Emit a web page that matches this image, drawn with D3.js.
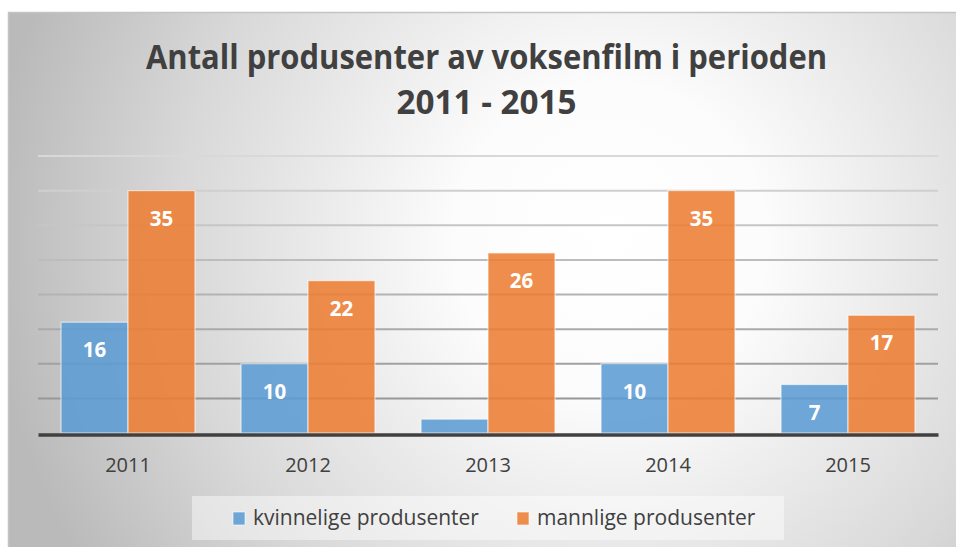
<!DOCTYPE html>
<html>
<head>
<meta charset="utf-8">
<script src="https://cdn.jsdelivr.net/npm/d3@7"></script>
<style>
  html, body { margin: 0; padding: 0; background: #fff; }
  svg { display: block; font-family: "Open Sans", sans-serif; }
</style>
</head>
<body>
<script>
// data
var years = ["2011", "2012", "2013", "2014", "2015"];
var series = ["kvinnelige produsenter", "mannlige produsenter"];
var kvinner = [16, 10, 2, 10, 7];
var menn = [35, 22, 26, 35, 17];
var yTicks = [0, 5, 10, 15, 20, 25, 30, 35, 40];
var titleLines = ["Antall produsenter av voksenfilm i perioden", "2011 - 2015"];

var colors = ["#5b9bd5", "#ed7d31"];

var W = 956, H = 547;
var svg = d3.select("body").append("svg")
  .attr("width", W)
  .attr("height", H);

var defs = svg.append("defs");

// radial background like the excel chart area
var bg = defs.append("radialGradient")
  .attr("id", "bg")
  .attr("gradientUnits", "userSpaceOnUse")
  .attr("cx", 610).attr("cy", 240).attr("r", 620);
bg.append("stop").attr("offset", "0%").attr("stop-color", "#ffffff");
bg.append("stop").attr("offset", "25%").attr("stop-color", "#fcfcfc");
bg.append("stop").attr("offset", "70%").attr("stop-color", "#d8d8d8");
bg.append("stop").attr("offset", "100%").attr("stop-color", "#bababa");

// gridlines get darker toward the bottom
var gg = defs.append("linearGradient")
  .attr("id", "grid")
  .attr("gradientUnits", "userSpaceOnUse")
  .attr("x1", 0).attr("y1", 150).attr("x2", 0).attr("y2", 433);
gg.append("stop").attr("offset", "0%").attr("stop-color", "#dadada");
gg.append("stop").attr("offset", "100%").attr("stop-color", "#8e8e8e");

svg.append("rect")
  .attr("x", 8).attr("y", 12)
  .attr("width", W - 8).attr("height", H - 12)
  .attr("fill", "url(#bg)");
svg.append("path")
  .attr("d", "M8.5," + H + "V12.5H" + W)
  .attr("fill", "none")
  .attr("stroke", "#c4c4c4")
  .attr("stroke-width", 1.5);

// title, squeezed to the width of the original
var titleWidths = [681, 180];
var title = svg.append("text")
  .attr("text-anchor", "middle")
  .attr("fill", "#404040")
  .style("font-weight", "bold")
  .style("font-size", "34px");
title.selectAll("tspan")
  .data(titleLines)
  .enter().append("tspan")
  .attr("x", 486.5)
  .attr("y", function(d, i) { return 69 + i * 45; })
  .attr("textLength", function(d, i) { return titleWidths[i]; })
  .attr("lengthAdjust", "spacingAndGlyphs")
  .text(function(d) { return d; });

var margin = {left: 38, right: 18, top: 156, bottom: 114};

var x0 = d3.scaleBand()
  .domain(years)
  .range([margin.left, W - margin.right]);

var gap = x0.bandwidth() * 0.256;
var x1 = d3.scaleBand()
  .domain(series)
  .range([gap / 2, x0.bandwidth() - gap / 2]);

var y = d3.scaleLinear()
  .domain([0, 40])
  .range([H - margin.bottom, margin.top]);

// gridlines
svg.append("g")
  .selectAll("line")
  .data(yTicks.filter(function(d) { return d > 0; }))
  .enter().append("line")
  .attr("x1", margin.left)
  .attr("x2", W - margin.right)
  .attr("y1", function(d) { return y(d); })
  .attr("y2", function(d) { return y(d); })
  .attr("stroke", "url(#grid)")
  .attr("stroke-width", 2);

var rows = years.map(function(yr, i) {
  return {year: yr, values: [kvinner[i], menn[i]]};
});

var groups = svg.append("g")
  .selectAll("g")
  .data(rows)
  .enter().append("g")
  .attr("transform", function(d) { return "translate(" + x0(d.year) + ",0)"; });

groups.selectAll("rect")
  .data(function(d) { return d.values.map(function(v, j) { return {s: series[j], v: v, j: j}; }); })
  .enter().append("rect")
  .attr("x", function(d) { return x1(d.s); })
  .attr("width", x1.bandwidth())
  .attr("y", function(d) { return y(d.v); })
  .attr("height", function(d) { return y(0) - y(d.v); })
  .attr("fill", function(d) { return colors[d.j]; })
  .attr("fill-opacity", 0.87)
  .attr("stroke", "#ffffff")
  .attr("stroke-opacity", 0.6)
  .attr("stroke-width", 1.2);

// value labels (the tiny 2013 bar has none)
groups.selectAll("text")
  .data(function(d) { return d.values.map(function(v, j) { return {s: series[j], v: v}; }); })
  .enter().filter(function(d) { return d.v >= 5; })
  .append("text")
  .attr("x", function(d) { return x1(d.s) + x1.bandwidth() / 2; })
  .attr("y", function(d) { return y(d.v) + 35; })
  .attr("text-anchor", "middle")
  .attr("fill", "#ffffff")
  .style("font-weight", "bold")
  .style("font-size", "20.5px")
  .text(function(d) { return d.v; });

// x axis
var xAxis = svg.append("g")
  .attr("transform", "translate(0," + (y(0) + 1.5) + ")")
  .call(d3.axisBottom(x0).tickSize(0).tickPadding(0));
xAxis.select(".domain")
  .attr("stroke", "#404040")
  .attr("stroke-width", 3.5);
xAxis.selectAll("text")
  .attr("fill", "#404040")
  .attr("dy", 0)
  .attr("y", 37)
  .style("font-family", "Open Sans")
  .style("font-size", "20px");

// legend
var legend = svg.append("g");
legend.append("rect")
  .attr("x", 192).attr("y", 496)
  .attr("width", 592).attr("height", 44)
  .attr("fill", "#ffffff")
  .attr("fill-opacity", 0.45);

var legX = [233, 517];
var items = legend.selectAll("g.item")
  .data(series)
  .enter().append("g")
  .attr("class", "item")
  .attr("transform", function(d, i) { return "translate(" + legX[i] + ",0)"; });
items.append("rect")
  .attr("x", 0).attr("y", 512)
  .attr("width", 12).attr("height", 13)
  .attr("fill", function(d, i) { return colors[i]; })
  .attr("fill-opacity", 0.87)
  .attr("stroke", "#fff")
  .attr("stroke-opacity", 0.6);
items.append("text")
  .attr("x", 20).attr("y", 525)
  .attr("fill", "#404040")
  .style("font-size", "21px")
  .text(function(d) { return d; });
</script>
</body>
</html>
